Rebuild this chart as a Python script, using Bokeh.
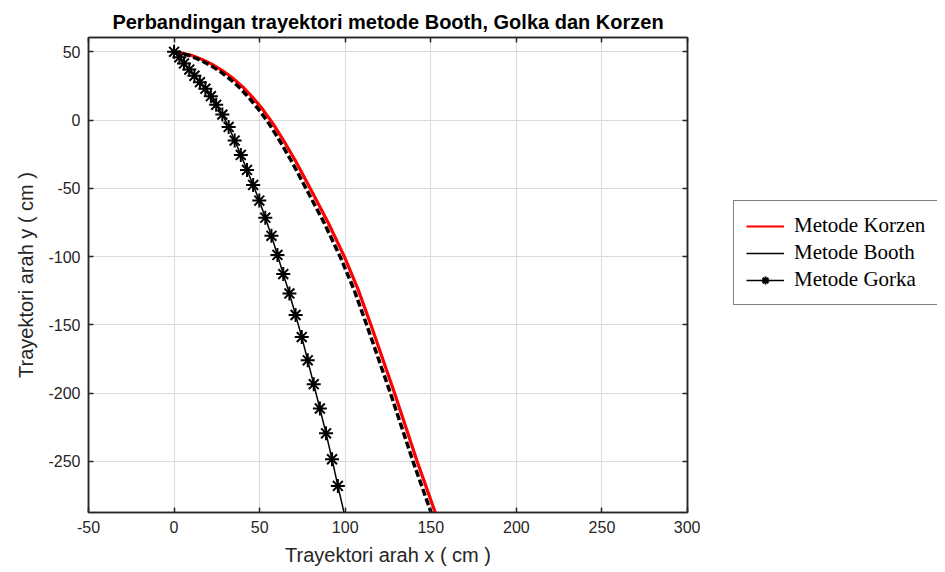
from bokeh.plotting import figure
from bokeh.models import LinearAxis, Range1d, Legend, LegendItem, FixedTicker, Grid
from bokeh.layouts import row
from bokeh.embed import file_html
from bokeh.resources import INLINE

# ---- data ----
korzen_x = [0, 3, 10, 16, 22, 28, 34, 40, 46, 52, 58, 64, 71, 79.5, 90, 99.5, 107.5, 115, 128.8, 142, 152.6]
korzen_y = [50, 49.4, 47.5, 44.6, 41, 36.5, 31, 24.5, 16.5, 7.5, -3, -15, -30, -50, -75, -100, -124, -150, -200, -250, -287.5]

booth_x = [0, 2.8, 9.5, 15.2, 21.0, 26.8, 32.6, 38.5, 44.4, 50.3, 56.2, 62.1, 69.0, 77.4, 87.8, 97.2, 105.2, 112.6, 126.4, 139.6, 150.2]
booth_y = [50, 49.2, 47.1, 44.0, 40.3, 35.7, 30.1, 23.5, 15.4, 6.4, -4.0, -16.0, -31.0, -50.8, -75.6, -100.5, -124.4, -150.3, -200, -250, -287.5]

gorka_x = [0, 3.1, 5.8, 8.9, 11.9, 15.1, 18.3, 21.5, 24.6, 28.2, 31.9, 35.4, 39.0, 42.6, 46.2,
           49.8, 53.3, 56.9, 60.4, 63.8, 67.4, 71.0, 74.6, 78.1, 81.6, 85.2, 88.8, 92.3, 95.7]
gorka_y = [50, 46, 41.5, 37, 32.5, 27.8, 23, 17.5, 11.2, 4, -5, -15, -25.5, -36.5, -47.5,
           -59, -71.5, -84.8, -98.8, -112.8, -127, -142.8, -159, -176, -193.5, -211.3, -229.5, -248.5, -268]
gorka_line_x = gorka_x + [99.3]
gorka_line_y = gorka_y + [-287.5]

x_ticks = [-50, 0, 50, 100, 150, 200, 250, 300]
y_ticks = [-250, -200, -150, -100, -50, 0, 50]

title_text = "Perbandingan trayektori metode Booth, Golka dan Korzen"
x_label = "Trayektori arah x ( cm )"
y_label = "Trayektori arah y ( cm )"
names = ["Metode Korzen", "Metode Booth", "Metode Gorka"]

DARK = "#262626"
SANS = "Liberation Sans"
RED = "#ff0000"

p = figure(width=700, height=568, x_range=Range1d(-50, 300), y_range=Range1d(-287.5, 60.5),
           output_backend="svg", toolbar_location=None,
           min_border_left=88, min_border_right=13, min_border_top=37, min_border_bottom=56,
           x_axis_type=None, y_axis_type=None)

p.title.text = title_text
p.title.align = "center"
p.title.text_font = SANS
p.title.text_font_size = "20px"
p.title.text_font_style = "bold"
p.title.text_color = "black"
p.title.standoff = 9
p.title.offset = 6

p.background_fill_color = "white"
p.border_fill_color = "white"
p.outline_line_color = DARK
p.outline_line_width = 1.5


def make_axis(ticks, label=None, show_labels=True):
    ax = LinearAxis(ticker=FixedTicker(ticks=ticks))
    ax.major_tick_in = 5
    ax.major_tick_out = 0
    ax.minor_tick_line_color = None
    ax.axis_line_color = DARK
    ax.axis_line_width = 1.5
    ax.major_tick_line_color = DARK
    ax.major_tick_line_width = 1.5
    ax.major_label_text_font = SANS
    ax.major_label_text_font_size = "16px"
    ax.major_label_text_color = DARK
    if show_labels:
        ax.major_label_overrides = {t: str(t) for t in ticks}
        ax.major_label_standoff = 8
    else:
        ax.major_label_overrides = {t: "" for t in ticks}
        ax.major_label_standoff = 0
    if label:
        ax.axis_label = label
        ax.axis_label_text_font = SANS
        ax.axis_label_text_font_size = "20px"
        ax.axis_label_text_font_style = "normal"
        ax.axis_label_text_color = DARK
        ax.axis_label_standoff = 8
    return ax


p.add_layout(make_axis(x_ticks, x_label), "below")
p.add_layout(make_axis(y_ticks, y_label), "left")
p.add_layout(make_axis(x_ticks, show_labels=False), "above")
p.add_layout(make_axis(y_ticks, show_labels=False), "right")

p.add_layout(Grid(dimension=0, ticker=FixedTicker(ticks=x_ticks), grid_line_color="#dcdcdc", grid_line_width=1))
p.add_layout(Grid(dimension=1, ticker=FixedTicker(ticks=y_ticks), grid_line_color="#dcdcdc", grid_line_width=1))

p.line(korzen_x, korzen_y, line_color=RED, line_width=3.2)
p.line(booth_x, booth_y, line_color="black", line_width=3.5, line_dash="7 3")
p.line(gorka_line_x, gorka_line_y, line_color="black", line_width=1.5)
p.scatter(gorka_x, gorka_y, marker="asterisk", size=14, line_color="black", line_width=2)

# ---- legend panel (separate canvas to the right of the axes) ----
p2 = figure(width=237, height=568, output_backend="svg", toolbar_location=None,
            min_border_left=0, min_border_right=0, min_border_top=0, min_border_bottom=0,
            x_axis_type=None, y_axis_type=None, x_range=Range1d(-50, 300), y_range=Range1d(-287.5, 60.5))
p2.outline_line_color = None
p2.grid.visible = False
p2.background_fill_color = "white"
p2.border_fill_color = "white"

l_korzen = p2.line(korzen_x, korzen_y, line_color=RED, line_width=2, visible=False)
l_booth = p2.line(booth_x, booth_y, line_color="black", line_width=1.3, visible=False)
l_gorka_line = p2.line(gorka_line_x, gorka_line_y, line_color="black", line_width=1.3, visible=False)
l_gorka_pts = p2.scatter(gorka_x, gorka_y, marker="asterisk", size=14, line_color="black", line_width=2, visible=False)

legend = Legend(items=[
    LegendItem(label=names[0], renderers=[l_korzen]),
    LegendItem(label=names[1], renderers=[l_booth]),
    LegendItem(label=names[2], renderers=[l_gorka_line, l_gorka_pts]),
], location=(33, 207))
legend.label_text_font = "Liberation Serif"
legend.label_text_font_size = "21px"
legend.label_text_color = "black"
legend.label_standoff = 10
legend.glyph_width = 38
legend.glyph_height = 20
legend.label_height = 24
legend.spacing = 2
legend.padding = 12
legend.margin = 0
legend.border_line_color = "black"
legend.border_line_width = 1
legend.background_fill_color = "white"
legend.background_fill_alpha = 1
legend.click_policy = "none"
p2.add_layout(legend, "center")

layout = row(p, p2)
open("out.html", "w").write(file_html(layout, INLINE))
